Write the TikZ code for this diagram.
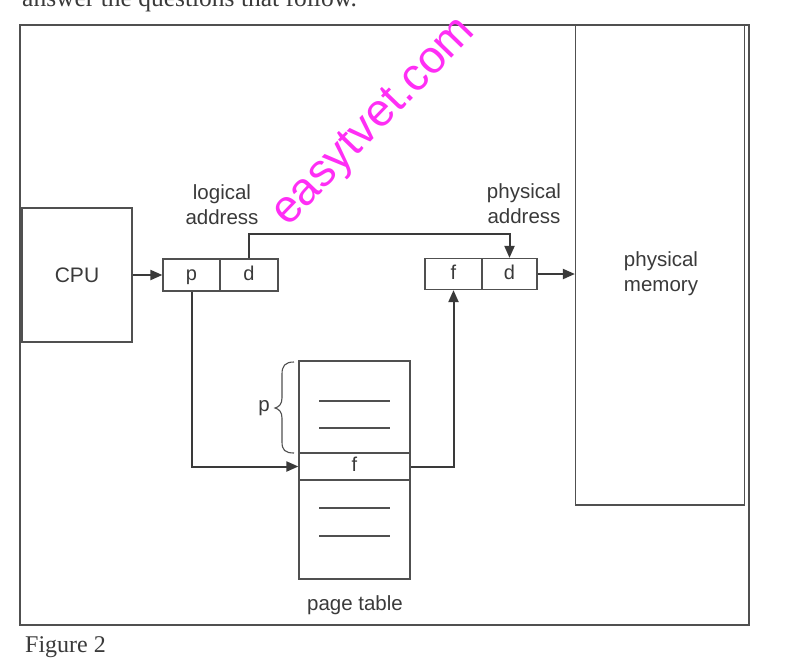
\documentclass[tikz,border=0pt]{standalone}
\usepackage{fontspec}
\setmainfont{Liberation Serif}
\newfontfamily\labfont{Liberation Sans}
\usetikzlibrary{arrows.meta}
\definecolor{ink}{HTML}{3A3A3A}
\definecolor{boxc}{HTML}{505050}
\definecolor{wm}{HTML}{FF2EF5}
\begin{document}
\begin{tikzpicture}[x=1pt,y=-1pt,
  box/.style={draw=boxc,line width=1.2pt,inner sep=0pt,text=ink,font=\labfont\fontsize{20}{24}\selectfont},
  cell/.style={box,text height=14.5pt,text depth=4pt},
  lab/.style={text=ink,font=\labfont\fontsize{20.5}{25}\selectfont,align=center,inner sep=0pt},
  conn/.style={draw=ink,line width=2pt},
  arr/.style={conn,-{Triangle[length=12pt,width=10pt]}}]
\useasboundingbox (0,0) rectangle (785,665);
% cut-off text line at the top
\node[anchor=base west,inner sep=0pt,text=ink,font=\fontsize{25.5}{30}\selectfont] (top) at (22,6) {answer the questions that follow.};
% outer frame
\draw[draw=boxc,line width=1.4pt] (20,25) rectangle (749,625);
% watermark
\node[text=wm,rotate=46,inner sep=0pt,font=\labfont\fontsize{46}{50}\selectfont] (wmk) at (375,123) {easytvet.com};
% boxes
\node[box,minimum width=110pt,minimum height=134pt,font=\labfont\fontsize{21}{24}\selectfont] (cpu) at (77,275) {CPU};
\node[cell,minimum width=57pt,minimum height=32pt] (lp) at (191.5,275) {p};
\node[cell,minimum width=58pt,minimum height=32pt] (ld) at (249,275) {d};
\node[cell,minimum width=57pt,minimum height=31pt] (pf) at (453.5,274) {f};
\node[cell,minimum width=55pt,minimum height=31pt] (pd) at (509.5,274) {d};
\node[box,minimum width=169pt,minimum height=480pt] (mem) at (660,265) {};
\node[lab] (memlab) at (661,274) {physical\\memory};
% page table
\node[box,minimum width=111pt,minimum height=92pt] (ptu) at (354.5,407) {};
\node[cell,minimum width=111pt,minimum height=27pt] (ptf) at (354.5,466.5) {f};
\node[box,minimum width=111pt,minimum height=99pt] (ptl) at (354.5,529.5) {};
\draw[draw=boxc,line width=1.3pt] (319,401) -- (390,401) (319,428) -- (390,428)
  (319,508) -- (390,508) (319,536) -- (390,536);
\node[lab] (ptlab) at (355,605) {page table};
% labels
\node[lab] (lalab) at (222,205) {logical\\address};
\node[lab] (palab) at (524,204) {physical\\address};
% brace
\draw[draw=boxc,line width=1.1pt] (294,362) .. controls (285,362) and (282,366) .. (282,374) -- (282,398)
  .. controls (282,404) and (279,407) .. (275,408) .. controls (279,409) and (282,412) .. (282,418)
  -- (282,442) .. controls (282,450) and (285,453) .. (294,453);
\node[lab] (bp) at (264,408) {p};
% connectors
\draw[arr] (cpu.east) -- (lp.west);
\draw[arr] (ld.north) -- ++(0,-24) -| (pd.north);
\draw[arr] (lp.south) |- (ptf.west);
\draw[arr] (ptf.east) -| (pf.south);
\draw[arr] (pd.east) -- (mem.west |- pd.east);
% caption
\node[anchor=base west,inner sep=0pt,text=ink,font=\fontsize{24}{28}\selectfont] (cap) at (25,652) {Figure 2};
\end{tikzpicture}
\end{document}
